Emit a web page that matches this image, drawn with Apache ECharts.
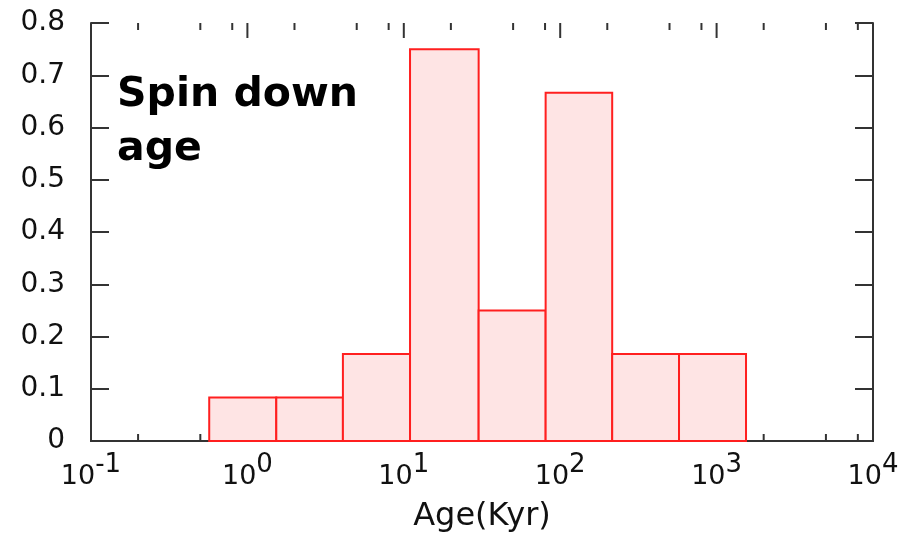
<!DOCTYPE html>
<html>
<head>
<meta charset="utf-8">
<script src="https://cdn.jsdelivr.net/npm/echarts@6/dist/echarts.min.js"></script>
<style>
html,body{margin:0;padding:0;background:#fff;}
#chart{width:910px;height:534px;}
</style>
</head>
<body>
<div id="chart"></div>
<script>
// Histogram bin edges (Age in Kyr, log-spaced) and heights
const binEdges = [0.57, 1.53, 4.08, 10.96, 30.1, 80.7, 215, 575, 1542];
const binValues = [0.0833, 0.0833, 0.1667, 0.75, 0.25, 0.6667, 0.1667, 0.1667];
// Tick positions on the log axis
const majorTicks = [1, 10, 100, 1000];
const minorTicks = [0.2, 0.5, 0.8, 2, 5, 8, 20, 50, 80, 200, 500, 800, 2000, 5000, 8000];
const titleText = 'Spin down\nage';
const xName = 'Age(Kyr)';

const FONT = 'DejaVu Sans';
const chart = echarts.init(document.getElementById('chart'), null, {renderer: 'canvas'});

const barData = binValues.map((v, i) => [binEdges[i], binEdges[i + 1], v]);
const tickData = majorTicks.map(v => [v, 0, 15]).concat(minorTicks.map(v => [v, 0, 7]));

const axisLineStyle = {color: '#333', width: 2};

const option = {
  backgroundColor: '#fff',
  animation: false,
  title: {
    text: titleText,
    left: 112,
    top: 63,
    textStyle: {fontFamily: FONT, fontSize: 41, fontWeight: 'bold', color: '#000', lineHeight: 54}
  },
  grid: {left: 91, right: 37, top: 23, bottom: 93, containLabel: false, outerBoundsMode: 'none'},
  xAxis: [
    {
      type: 'log', logBase: 10, min: 0.1, max: 10000, position: 'bottom',
      name: xName, nameLocation: 'middle', nameGap: 60,
      nameTextStyle: {fontFamily: FONT, fontSize: 32, color: '#111'},
      axisLine: {show: true, lineStyle: axisLineStyle},
      axisTick: {show: false},
      splitLine: {show: false},
      minorTick: {show: false},
      axisLabel: {
        margin: 11,
        formatter: v => '{b|10}{s|' + Math.round(Math.log10(v)) + '}',
        rich: {
          b: {fontFamily: FONT, fontSize: 27, color: '#111', verticalAlign: 'bottom'},
          s: {fontFamily: FONT, fontSize: 26, color: '#111', verticalAlign: 'bottom', padding: [0, 0, 12, 0]}
        }
      }
    },
    {
      type: 'log', logBase: 10, min: 0.1, max: 10000, position: 'top',
      axisLine: {show: true, lineStyle: axisLineStyle},
      axisTick: {show: false},
      splitLine: {show: false},
      axisLabel: {show: false}
    }
  ],
  yAxis: [
    {
      type: 'value', min: 0, max: 0.8, interval: 0.1, position: 'left',
      axisLine: {show: true, lineStyle: axisLineStyle},
      axisTick: {show: true, inside: true, length: 18, lineStyle: {color: '#333', width: 2}},
      splitLine: {show: false},
      axisLabel: {
        margin: 26, fontFamily: FONT, fontSize: 28, color: '#111',
        formatter: v => (Math.abs(v) < 1e-9 ? '0' : v.toFixed(1))
      }
    },
    {
      type: 'value', min: 0, max: 0.8, interval: 0.1, position: 'right',
      axisLine: {show: true, lineStyle: axisLineStyle},
      axisTick: {show: true, inside: true, length: 18, lineStyle: {color: '#333', width: 2}},
      splitLine: {show: false},
      axisLabel: {show: false}
    }
  ],
  series: [
    {
      type: 'custom',
      name: 'xTicks',
      xAxisIndex: 0, yAxisIndex: 0,
      z: 1,
      silent: true,
      encode: {x: 0, y: 1},
      data: tickData,
      renderItem: function (params, api) {
        const len = api.value(2);
        const pb = api.coord([api.value(0), 0]);
        const pt = api.coord([api.value(0), 0.8]);
        const st = {stroke: '#333', lineWidth: 2};
        return {
          type: 'group',
          children: [
            {type: 'line', shape: {x1: pb[0], y1: pb[1], x2: pb[0], y2: pb[1] - len}, style: st},
            {type: 'line', shape: {x1: pt[0], y1: pt[1], x2: pt[0], y2: pt[1] + len}, style: st}
          ]
        };
      }
    },
    {
      type: 'custom',
      name: 'Spin down age',
      xAxisIndex: 0, yAxisIndex: 0,
      z: 5,
      encode: {x: [0, 1], y: 2},
      data: barData,
      renderItem: function (params, api) {
        const p0 = api.coord([api.value(0), api.value(2)]);
        const p1 = api.coord([api.value(1), 0]);
        return {
          type: 'rect',
          shape: {x: p0[0], y: p0[1], width: p1[0] - p0[0], height: p1[1] - p0[1]},
          style: {fill: '#fee4e4', stroke: '#ff1f1f', lineWidth: 2}
        };
      }
    }
  ]
};
chart.setOption(option);
</script>
</body>
</html>
